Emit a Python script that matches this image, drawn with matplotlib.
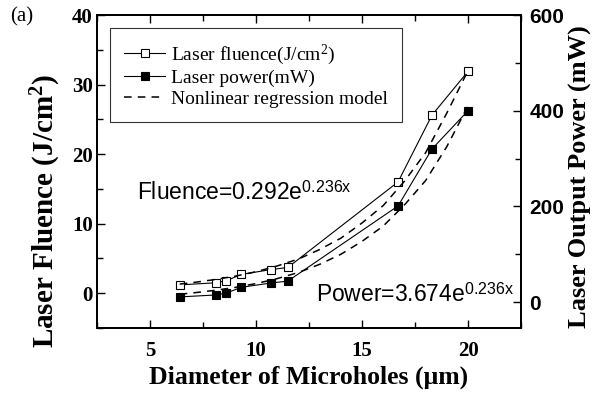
import matplotlib
matplotlib.use("Agg")
import matplotlib.pyplot as plt
from matplotlib.ticker import MultipleLocator

plt.rcParams['mathtext.fontset'] = 'custom'
plt.rcParams['mathtext.rm'] = 'Liberation Serif'
plt.rcParams['mathtext.it'] = 'Liberation Serif:italic'
plt.rcParams['mathtext.bf'] = 'Liberation Serif:bold'

diameter = [6.4, 8.1, 8.6, 9.3, 10.7, 11.5, 16.7, 18.3, 20.0]
fluence = [1.2, 1.5, 1.8, 2.7, 3.4, 3.7, 16.0, 25.6, 31.9]
power = [11, 15, 19, 31, 40, 44, 201, 320, 400]

# nonlinear regression curves
fit_x = [6.4, 7, 8, 9, 10, 11, 12, 13, 14, 15, 16, 17, 18, 19, 20]
fit_fluence = [1.32, 1.52, 1.94, 2.44, 3.09, 3.92, 4.92, 6.28, 7.91, 10.1, 12.6, 16.1, 20.2, 25.9, 32.0]
fit_power = [16.6, 19.2, 24.4, 30.7, 38.8, 49.2, 62, 79, 100, 127, 159, 203, 254, 325, 410]

serif = 'Liberation Serif'
sans = 'Liberation Sans'

fig = plt.figure(figsize=(6.09, 3.95), dpi=100)
ax1 = fig.add_axes([0.1593, 0.1696, 0.6962, 0.7924])
ax2 = ax1.twinx()

dash = (0, (5, 4))
l1, = ax1.plot(diameter, fluence, '-', color='black', lw=0.8, marker='s', ms=5.5,
               mfc='white', mec='black', mew=0.8, label=r'Laser fluence(J/cm$^{2}$)')
l3, = ax1.plot(fit_x, fit_fluence, color='black', lw=1.1, linestyle=dash,
               label='Nonlinear regression model')
l2, = ax2.plot(diameter, power, '-', color='black', lw=0.8, marker='s', ms=5.5,
               mfc='black', mec='black', mew=0.8, label='Laser power(mW)')
ax2.plot(fit_x, fit_power, color='black', lw=1.1, linestyle=dash)

ax1.set_xlim(2.5, 22.5)
ax1.set_ylim(-5, 40)
ax2.set_ylim(-54, 600)

ax1.xaxis.set_major_locator(MultipleLocator(5))
ax1.xaxis.set_minor_locator(MultipleLocator(2.5))
ax1.yaxis.set_major_locator(MultipleLocator(10))
ax1.yaxis.set_minor_locator(MultipleLocator(5))
ax2.yaxis.set_major_locator(MultipleLocator(200))
ax2.yaxis.set_minor_locator(MultipleLocator(100))

ax1.tick_params(axis='x', which='both', direction='in', top=True, bottom=True)
ax1.tick_params(axis='y', which='both', direction='in', right=False)
ax2.tick_params(axis='y', which='both', direction='in')
for ax in (ax1, ax2):
    ax.tick_params(which='major', length=6, width=1)
    ax.tick_params(which='minor', length=4, width=1)
    for s in ax.spines.values():
        s.set_linewidth(1.3)

for lab in ax1.get_xticklabels() + ax1.get_yticklabels():
    lab.set_fontfamily(serif)
    lab.set_fontweight('bold')
    lab.set_fontsize(15)
for lab in ax2.get_yticklabels():
    lab.set_fontfamily(sans)
    lab.set_fontweight('bold')
    lab.set_fontsize(15)
ax1.tick_params(axis='x', pad=9)
ax1.tick_params(axis='y', pad=3)
ax2.tick_params(axis='y', pad=6)

ax1.set_xlabel('Diameter of Microholes (μm)', fontfamily=serif, fontweight='bold',
               fontsize=18.5, labelpad=4)
ax1.set_ylabel(r'Laser Fluence (J/cm$^{\mathbf{2}}$)', fontfamily=serif, fontweight='bold',
               fontsize=21)
ax2.set_ylabel('Laser Output Power (mW)', fontfamily=serif, fontweight='bold',
               fontsize=19)
ax1.yaxis.set_label_coords(-0.08, 0.375)
ax2.yaxis.set_label_coords(1.112, 0.485)

ax1.text(0.095, 0.41, r'Fluence=0.292e$^{\mathregular{0.236x}}$', transform=ax1.transAxes,
         fontfamily=sans, fontsize=16.5)
ax1.text(0.517, 0.085, r'Power=3.674e$^{\mathregular{0.236x}}$', transform=ax1.transAxes,
         fontfamily=sans, fontsize=16.5)

fig.text(0.016, 0.945, '(a)', fontfamily=serif, fontsize=15)

leg = ax1.legend(handles=[l1, l2, l3], loc='upper left', frameon=True, fancybox=False,
                 edgecolor='black', prop={'family': serif, 'size': 14},
                 handlelength=2.1, handletextpad=0.3, labelspacing=0.15,
                 borderaxespad=0.65, borderpad=0.75)
leg.get_frame().set_linewidth(0.8)

fig.savefig('out.png', dpi=100)
